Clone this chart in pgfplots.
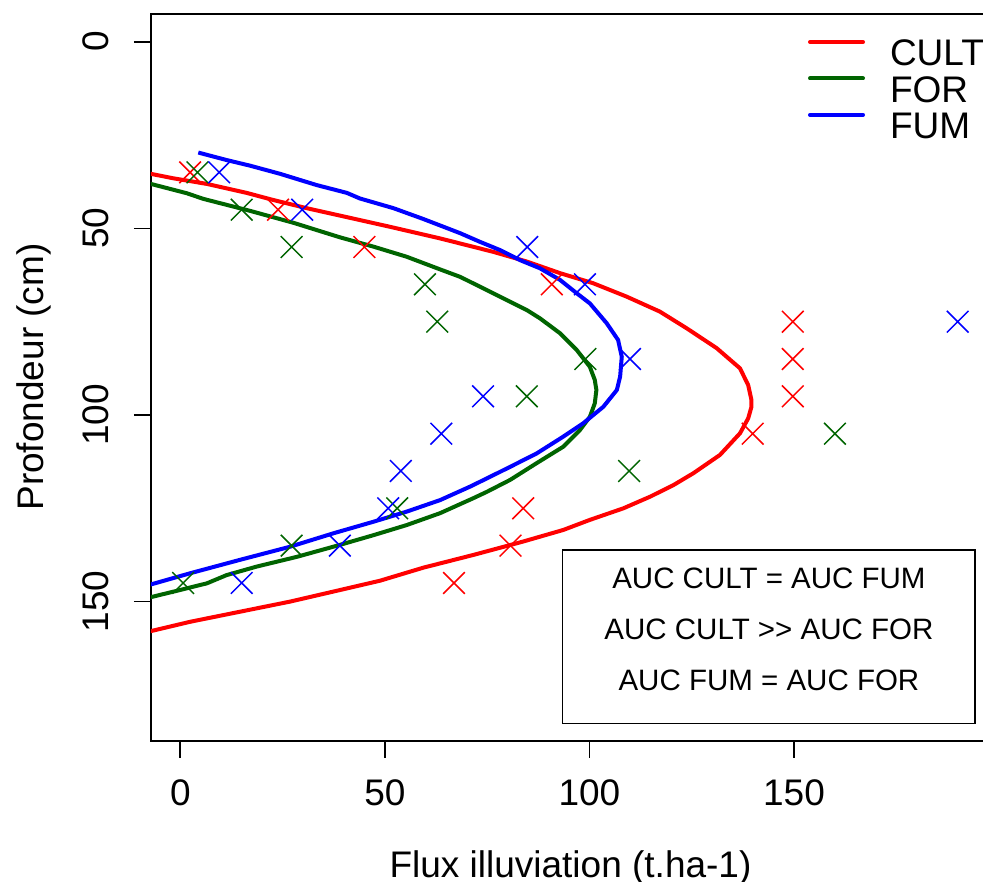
\documentclass[border=0pt]{standalone}
\usepackage{pgfplots}
\pgfplotsset{compat=1.18}
\usepackage{fontspec}
\setmainfont{Liberation Sans}
\definecolor{rgreen}{RGB}{0,100,0}
\definecolor{rred}{RGB}{255,0,0}
\definecolor{rblue}{RGB}{0,0,255}
\newcommand{\bigf}{\fontsize{11.1}{13.3}\selectfont}
\newcommand{\smallf}{\fontsize{8.85}{11}\selectfont}
\begin{document}
\begin{tikzpicture}
\path[use as bounding box] (0,0) rectangle (294.9pt,264.6pt);
\clip (0,0) rectangle (294.9pt,264.6pt);
\begin{axis}[
  at={(45.3pt,42.45pt)}, anchor=south west,
  scale only axis, width=251.7pt, height=218.1pt,
  xmin=-7.16, xmax=197.9, ymin=-7.55, ymax=187.2,
  y dir=reverse,
  xtick={0,50,100,150}, ytick={0,50,100,150},
  xtick pos=bottom, ytick pos=left,
  tick align=outside, major tick length=5.1pt,
  axis line style={line width=0.6pt},
  every tick/.style={line width=0.5pt, black},
  /pgf/number format/assume math mode=true,
  tick label style={font=\bigf},
  xticklabel style={anchor=base, yshift=-14.4pt},
  yticklabel style={xshift=-7.6pt, rotate=90, anchor=base},
  every axis x label/.style={at={(axis description cs:0.5,0)}, anchor=base, yshift=-41.2pt, font=\bigf},
  every axis y label/.style={at={(axis description cs:0,0.5)}, xshift=-32.3pt, rotate=90, anchor=base, font=\bigf},
  xlabel={Flux illuviation (t.ha-1)},
  ylabel={Profondeur (cm)},
  legend style={at={(axis description cs:0.7831,0.9635)}, anchor=north west,
    draw=none, fill=none, inner sep=0pt, outer sep=0pt, row sep=0pt, font=\bigf,
    nodes={inner sep=0pt, text height=7.5pt, text depth=3.15pt},
    /tikz/every odd column/.append style={column sep=7.5pt}},
  legend cell align=left,
  legend image code/.code={\draw[#1, line cap=round] (0.6pt,5pt) -- (16.5pt,5pt);},
]
% observations
\addplot[only marks, mark=x, mark size=4.6pt, color=rred, mark options={line width=0.45pt}, forget plot]
  coordinates {(2.4,35) (23.9,45) (45.0,55) (90.8,65) (149.7,75) (149.7,85) (149.7,95) (139.9,105) (83.8,125) (80.7,135) (66.9,145)};
\addplot[only marks, mark=x, mark size=4.6pt, color=rgreen, mark options={line width=0.45pt}, forget plot]
  coordinates {(4.2,35) (15.0,45) (27.2,55) (59.8,65) (62.8,75) (99.0,85) (84.7,95) (160.0,105) (109.7,115) (53.0,125) (27.2,135) (0.7,145)};
\addplot[only marks, mark=x, mark size=4.6pt, color=rblue, mark options={line width=0.45pt}, forget plot]
  coordinates {(9.5,35) (29.8,45) (84.8,55) (98.9,65) (190.0,75) (109.9,85) (74.0,95) (63.8,105) (53.9,115) (50.8,125) (39.0,135) (15.0,145)};
% fitted curves
\addplot[no marks, color=rred, line width=1.2pt, line join=round] coordinates {
(-10.0,34.9) (-7.2,35.4) (-1.7,36.6) (6.5,38.1) (16.2,40.5) (22.7,42.4) (30.9,44.6) (40.7,47.0) (51.3,49.6) (63.5,52.7) (76.5,56.3) (84.7,58.9) (92.8,62.0) (100.9,64.7) (109.1,68.3) (117.2,72.3) (123.8,76.8) (131.1,82.1) (136.8,87.5) (138.8,92.0) (139.6,96.0) (139.6,97.8) (138.8,100.9) (136.8,104.9) (131.9,110.7) (125.4,115.6) (120.5,118.8) (114.8,121.9) (108.3,125.0) (100.1,128.1) (93.6,130.8) (83.8,133.9) (71.6,137.5) (59.4,140.9) (48.8,144.4) (39.0,146.9) (26.8,150.0) (14.6,152.7) (2.4,155.4) (-7.2,157.9) (-10.0,158.6)};
\addlegendentry{CULT}
\addplot[no marks, color=rgreen, line width=1.2pt, line join=round] coordinates {
(-10.0,37.3) (-7.2,38.1) (1.6,40.6) (5.6,42.1) (17.0,45.3) (27.6,48.5) (39.0,52.4) (47.2,54.9) (55.3,57.6) (63.5,61.0) (68.4,63.0) (76.5,67.4) (84.7,71.9) (87.9,74.1) (92.8,78.1) (96.9,82.6) (100.1,87.1) (101.3,90.6) (101.7,93.3) (101.3,96.9) (100.1,100.5) (97.7,104.0) (93.6,108.5) (87.1,112.9) (80.6,117.4) (74.9,120.6) (71.6,122.3) (63.5,126.3) (55.3,129.5) (47.2,132.2) (39.0,134.8) (28.5,138.0) (18.7,140.6) (11.3,142.9) (6.5,145.1) (-0.1,146.9) (-7.2,148.8) (-10.0,149.6)};
\addlegendentry{FOR}
\addplot[no marks, color=rblue, line width=1.2pt, line join=round] coordinates {
(4.4,29.7) (11.3,31.7) (17.0,33.2) (24.4,35.4) (33.3,38.4) (40.7,40.5) (43.9,42.0) (52.1,44.6) (59.4,47.5) (68.4,51.3) (73.2,53.6) (78.1,55.8) (83.0,58.5) (87.9,60.7) (92.8,63.8) (96.9,67.4) (100.1,70.1) (104.2,75.4) (107.0,79.9) (107.9,84.4) (107.5,89.7) (106.7,93.3) (103.4,97.8) (98.5,102.2) (93.6,105.8) (87.1,110.3) (80.6,113.9) (74.9,117.0) (70.8,119.2) (63.5,122.8) (55.3,125.9) (47.2,128.6) (37.4,131.7) (26.8,135.3) (14.6,138.8) (2.4,142.4) (-7.2,145.4) (-10.0,146.2)};
\addlegendentry{FUM}
% AUC box
\draw[line width=0.45pt] (axis cs:93.45,136.16) rectangle (axis cs:194.28,182.58);
\node[font=\smallf] at (axis cs:143.87,143.74) {AUC CULT = AUC FUM};
\node[font=\smallf] at (axis cs:143.87,157.41) {AUC CULT >\kern0pt> AUC FOR};
\node[font=\smallf] at (axis cs:143.87,170.99) {AUC FUM = AUC FOR};
\end{axis}
\end{tikzpicture}
\end{document}
